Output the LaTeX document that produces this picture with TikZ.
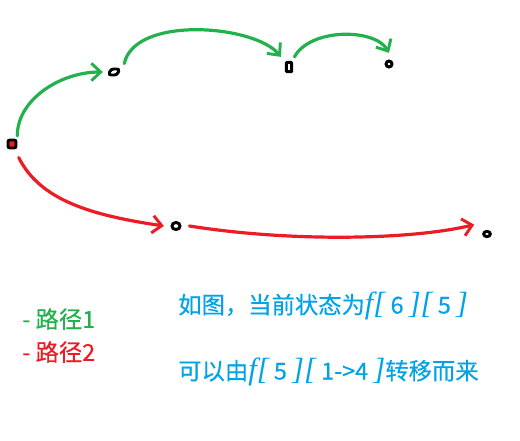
\documentclass[tikz,border=0pt]{standalone}
\usepackage{fontspec}
\setmainfont{Noto Sans CJK SC}[UprightFeatures={FakeBold=0.4}]
\newfontfamily\fserif{Liberation Serif}
\usetikzlibrary{arrows.meta,shapes.geometric}
\definecolor{pgreen}{RGB}{34,177,76}
\definecolor{pred}{RGB}{237,28,36}
\definecolor{pblue}{RGB}{0,162,232}
\tikzset{
	state/.style={draw=black,line width=2.2pt,inner sep=0pt,minimum width=6pt,minimum height=6pt,rounded corners=1.5pt},
	path1/.style={draw=pgreen,line width=2.4pt,line cap=round,-{Straight Barb[length=7pt,width=13pt,line width=2.2pt]}},
	path2/.style={draw=pred,line width=2.4pt,line cap=round,-{Straight Barb[length=7pt,width=13pt,line width=2.2pt]}},
	label/.style={anchor=west,inner sep=0pt,font=\fontsize{17.5pt}{20pt}\selectfont}
}
\newcommand{\fbr}[1]{{\fserif\itshape\fontsize{23pt}{23pt}\selectfont #1}}
\begin{document}
\begin{tikzpicture}[x=0.75pt,y=-0.75pt]
			\useasboundingbox (0,0) rectangle (520,440);
			\node[state,fill=pred] (s) at (12,144) {};
			\node[state,minimum width=6.5pt,minimum height=4.5pt,rounded corners=2pt,xslant=0.4] (a) at (114,72) {};
			\node[state,minimum width=4pt,minimum height=7pt,rounded corners=0.5pt] (b) at (289,67) {};
			\node[state,circle,minimum size=4.5pt] (c) at (389,64) {};
			\node[state,minimum width=6pt,minimum height=5pt,rounded corners=2.5pt] (d) at (176,226) {};
			\node[state,ellipse,minimum width=5pt,minimum height=4pt] (e) at (487,234) {};
			\draw[path1] ([xshift=4pt,yshift=2pt]s.north) .. controls (17,100) and (60,72) .. ([xshift=-4pt]a.west);
			\draw[path1] ([xshift=2pt,yshift=3pt]a.north east) .. controls (135,15) and (255,25) .. ([xshift=-3pt,yshift=3pt]b.north west);
			\draw[path1] ([xshift=1pt,yshift=3pt]b.north east) .. controls (310,28) and (375,28) .. ([yshift=5pt]c.north);
			\draw[path2] ([xshift=5pt,yshift=-6pt]s.south) .. controls (40,200) and (90,215) .. ([xshift=-5pt]d.west);
			\draw[path2] ([xshift=6pt]d.east) .. controls (290,242) and (410,240) .. ([xshift=-6pt,yshift=7pt]e.west);
			\node[label,text=pgreen] (l1) at (22,319) {- 路径1};
			\node[label,text=pred] (l2) at (22,352) {- 路径2};
			\node[label,text=pblue] (t1) at (178,306) {如图，当前状态为\fbr{f[}\ 6\ \fbr{][}\ 5\ \fbr{]}};
			\node[label,text=pblue] (t2) at (178,372) {可以由\fbr{f[}\ 5\ \fbr{][}\ 1->4\ \fbr{]}转移而来};
		\end{tikzpicture}
\end{document}
